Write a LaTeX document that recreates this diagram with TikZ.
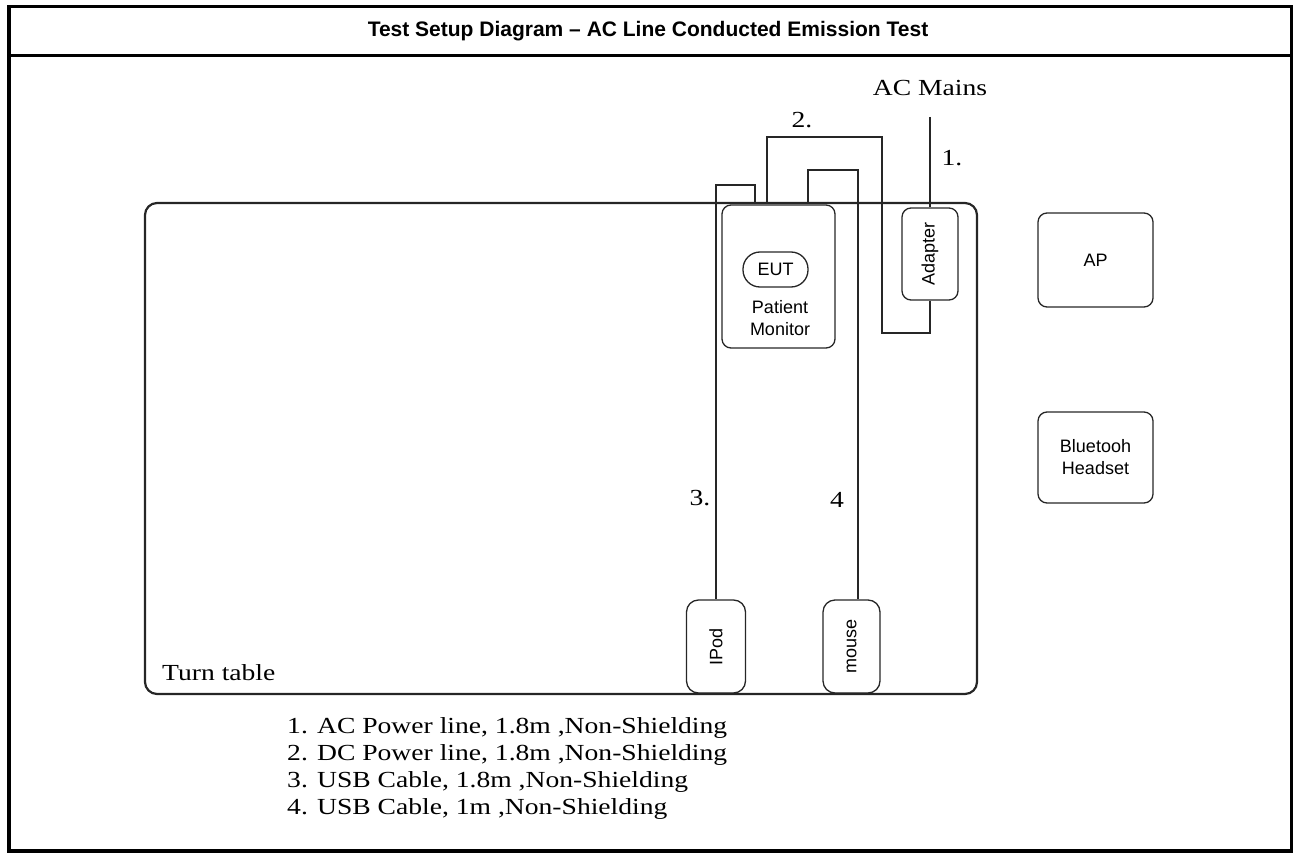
\documentclass[tikz,border=0pt]{standalone}
\usepackage{fontspec}
\usepackage{graphicx}
\setmainfont{Liberation Serif}
\newfontfamily\arialf{Liberation Sans}
\newcommand\wtxt[1]{\scalebox{1.2}[1]{#1}}
\begin{document}
\begin{tikzpicture}[x=1pt,y=-1pt,
  box/.style={draw=black!85, line width=1.3pt, rounded corners=9pt, inner sep=0pt},
  cable/.style={draw=black!85, line width=1.4pt},
  sans/.style={font=\arialf\fontsize{18}{22}\selectfont, align=center},
  serif/.style={font=\fontsize{23}{28}\selectfont, inner sep=0pt}]
\useasboundingbox (0,0) rectangle (1295,853);
% frame
\draw[line width=3.6pt] (9,6.5) rectangle (1291.5,851);
\draw[line width=2.5pt] (9,55.5) -- (1291.5,55.5);
\node[font=\arialf\bfseries\fontsize{21}{25}\selectfont] (title) at (648,31) {Test Setup Diagram – AC Line Conducted Emission Test};
% turn table
\node[box, line width=2.2pt, rounded corners=12pt, minimum width=832pt, minimum height=491pt] (tt) at (561,448.5) {};
\node[serif, anchor=west] (ttl) at (162,673) {\wtxt{Turn table}};
% devices
\node[box, minimum width=113pt, minimum height=143pt] (mon) at (778.5,276.5) {};
\node[box, rounded corners=17pt, minimum width=65pt, minimum height=35pt, sans] (eut) at (775.5,269.5) {EUT};
\node[sans] (pm) at (780,318.5) {Patient\\Monitor};
\node[box, sans, rotate=90, minimum width=92pt, minimum height=56pt] (ad) at (930,254) {Adapter};
\node[box, rounded corners=12pt, minimum width=93pt, minimum height=59pt, sans, rotate=90] (ipod) at (716,646.5) {IPod};
\node[box, rounded corners=12pt, minimum width=93pt, minimum height=57pt, sans, rotate=90] (mouse) at (851.5,646.5) {mouse};
\node[box, minimum width=115pt, minimum height=94pt, sans] (ap) at (1095.5,260) {AP};
\node[box, minimum width=115pt, minimum height=91pt, sans] (bt) at (1095.5,457.5) {Bluetooh\\Headset};
% cables
\node[serif] (acl) at (930,88) {\wtxt{AC Mains}};
\coordinate (acm) at (930,117);
\draw[cable] (acm) -- (ad.east);
\coordinate (c2a) at (882,333);
\coordinate (c2b) at (767,137);
\draw[cable] (ad.west) |- (c2a) |- (c2b) -- (c2b |- mon.north);
\coordinate (c3a) at (755,185);
\coordinate (c3b) at (716,185);
\draw[cable] (c3a |- mon.north) -- (c3a) -- (c3b) -- (c3b |- ipod.east);
\coordinate (c4a) at (808,170);
\coordinate (c4b) at (858,170);
\draw[cable] (c4a |- mon.north) -- (c4a) -- (c4b) -- (c4b |- mouse.east);
% cable labels
\node[serif] (l1) at (952,158) {\wtxt{1.}};
\node[serif] (l2) at (802,120) {\wtxt{2.}};
\node[serif] (l3) at (700,498) {\wtxt{3.}};
\node[serif] (l4) at (837,500) {\wtxt{4}};
% legend
\node[serif, anchor=west] (g1) at (287,728) {\wtxt{1. AC Power line, 1.8m ,Non-Shielding}};
\node[serif, anchor=west] (g2) at (287,755) {\wtxt{2. DC Power line, 1.8m ,Non-Shielding}};
\node[serif, anchor=west] (g3) at (287,782) {\wtxt{3. USB Cable, 1.8m ,Non-Shielding}};
\node[serif, anchor=west] (g4) at (287,809) {\wtxt{4. USB Cable, 1m ,Non-Shielding}};
\end{tikzpicture}
\end{document}
